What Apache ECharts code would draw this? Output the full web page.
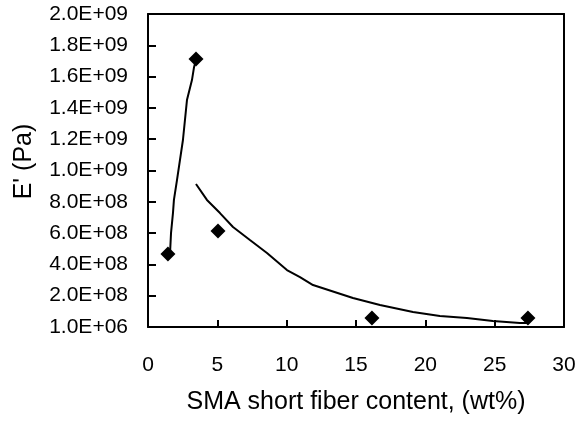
<!DOCTYPE html>
<html>
<head>
<meta charset="utf-8">
<script src="https://cdn.jsdelivr.net/npm/echarts@6/dist/echarts.min.js"></script>
<style>html,body{margin:0;padding:0;background:#fff}#c{width:582px;height:423px}</style>
</head>
<body>
<div id="c"></div>
<script>
// measured data points (wt%, Pa)
var pointX = [1.44, 3.46, 5.05, 16.15, 27.4];
var pointY = [4.66e8, 1.712e9, 6.13e8, 5.75e7, 5.75e7];
// fitted curve 1 (rising)
var fit1X = [1.59, 1.66, 1.80, 1.87, 2.09, 2.52, 2.81, 3.17, 3.32, 3.46];
var fit1Y = [4.73e8, 6.0e8, 7.28e8, 8.12e8, 9.39e8, 1.195e9, 1.45e9, 1.578e9, 1.66e9, 1.706e9];
// fitted curve 2 (decaying)
var fit2X = [3.46, 4.25, 5.19, 6.13, 7.35, 8.58, 10.02, 10.96, 11.90, 14.78, 16.73, 19.11, 21.05, 23.0, 24.87, 26.82, 27.4];
var fit2Y = [9.14e8, 8.12e8, 7.28e8, 6.39e8, 5.56e8, 4.73e8, 3.64e8, 3.19e8, 2.68e8, 1.85e8, 1.41e8, 9.6e7, 7.0e7, 5.75e7, 3.8e7, 2.6e7, 2.6e7];
// tick labels
var yTickLabels = ['1.0E+06','2.0E+08','4.0E+08','6.0E+08','8.0E+08','1.0E+09','1.2E+09','1.4E+09','1.6E+09','1.8E+09','2.0E+09'];
var xTickLabels = ['0','5','10','15','20','25','30'];
var xTitle = 'SMA short fiber content, (wt%)';
var yTitle = "E' (Pa)";

function zip(a, b) { return a.map(function (v, i) { return [v, b[i]]; }); }

var X_STEP = 5, Y_STEP = 2e8;
var X_MAX = 30, Y_MAX = 2e9;
// inward tick lengths as fractions of the axis ranges
var X_TICK_FRAC = 0.0225, Y_TICK_FRAC = 0.0192;

// inward ticks expressed in data space, drawn through the chart's scales
var tickLines = [];
xTickLabels.forEach(function (t, i) {
  var v = i * X_STEP;
  tickLines.push([{coord: [v, 0]}, {coord: [v, Y_MAX * X_TICK_FRAC]}]);
});
yTickLabels.forEach(function (t, i) {
  var v = i * Y_STEP;
  tickLines.push([{coord: [0, v]}, {coord: [X_MAX * Y_TICK_FRAC, v]}]);
});

var chart = echarts.init(document.getElementById('c'), null, {renderer: 'canvas'});
var font = 'Liberation Sans, Arial, sans-serif';
var frameAxis = {
  axisLine: {show: true, onZero: false, lineStyle: {color: '#000', width: 2}},
  axisTick: {show: false}, axisLabel: {show: false}, splitLine: {show: false}
};
chart.setOption({
  animation: false,
  backgroundColor: '#fff',
  grid: {left: 148, top: 14, right: 18, bottom: 96},
  xAxis: [{
    type: 'value', min: 0, max: X_MAX, interval: X_STEP, position: 'bottom',
    name: xTitle, nameLocation: 'middle', nameGap: 63,
    nameTextStyle: {fontFamily: font, fontSize: 25, color: '#000'},
    axisLine: {show: true, onZero: false, lineStyle: {color: '#000', width: 2}},
    axisTick: {show: false},
    axisLabel: {show: true, margin: 28, fontFamily: font, fontSize: 21, color: '#000',
      formatter: function (v) { return xTickLabels[Math.round(v / X_STEP)]; }},
    splitLine: {show: false}
  },
  Object.assign({type: 'value', min: 0, max: X_MAX, interval: X_STEP, position: 'top'}, frameAxis)
  ],
  yAxis: [{
    type: 'value', min: 0, max: Y_MAX, interval: Y_STEP, position: 'left',
    name: yTitle, nameLocation: 'middle', nameGap: 111, nameRotate: 90,
    nameTextStyle: {fontFamily: font, fontSize: 25, color: '#000', padding: [0, 0, 0, 18]},
    axisLine: {show: true, onZero: false, lineStyle: {color: '#000', width: 2}},
    axisTick: {show: false},
    axisLabel: {show: true, margin: 20, fontFamily: font, fontSize: 21, color: '#000',
      formatter: function (v) { return yTickLabels[Math.round(v / Y_STEP)]; }},
    splitLine: {show: false}
  },
  Object.assign({type: 'value', min: 0, max: Y_MAX, interval: Y_STEP, position: 'right'}, frameAxis)
  ],
  series: [
    {type: 'line', data: zip(fit1X, fit1Y), showSymbol: false, symbol: 'none',
      lineStyle: {color: '#000', width: 2}, z: 2},
    {type: 'line', data: zip(fit2X, fit2Y), showSymbol: false, symbol: 'none',
      lineStyle: {color: '#000', width: 2}, z: 2,
      markLine: {
        silent: true, animation: false, symbol: ['none', 'none'], precision: 10,
        label: {show: false},
        lineStyle: {color: '#000', width: 2, type: 'solid'},
        emphasis: {disabled: true},
        data: tickLines
      }},
    {type: 'scatter', data: zip(pointX, pointY), symbol: 'diamond', symbolSize: 15,
      itemStyle: {color: '#000', opacity: 1}, z: 3}
  ]
});
</script>
</body>
</html>
